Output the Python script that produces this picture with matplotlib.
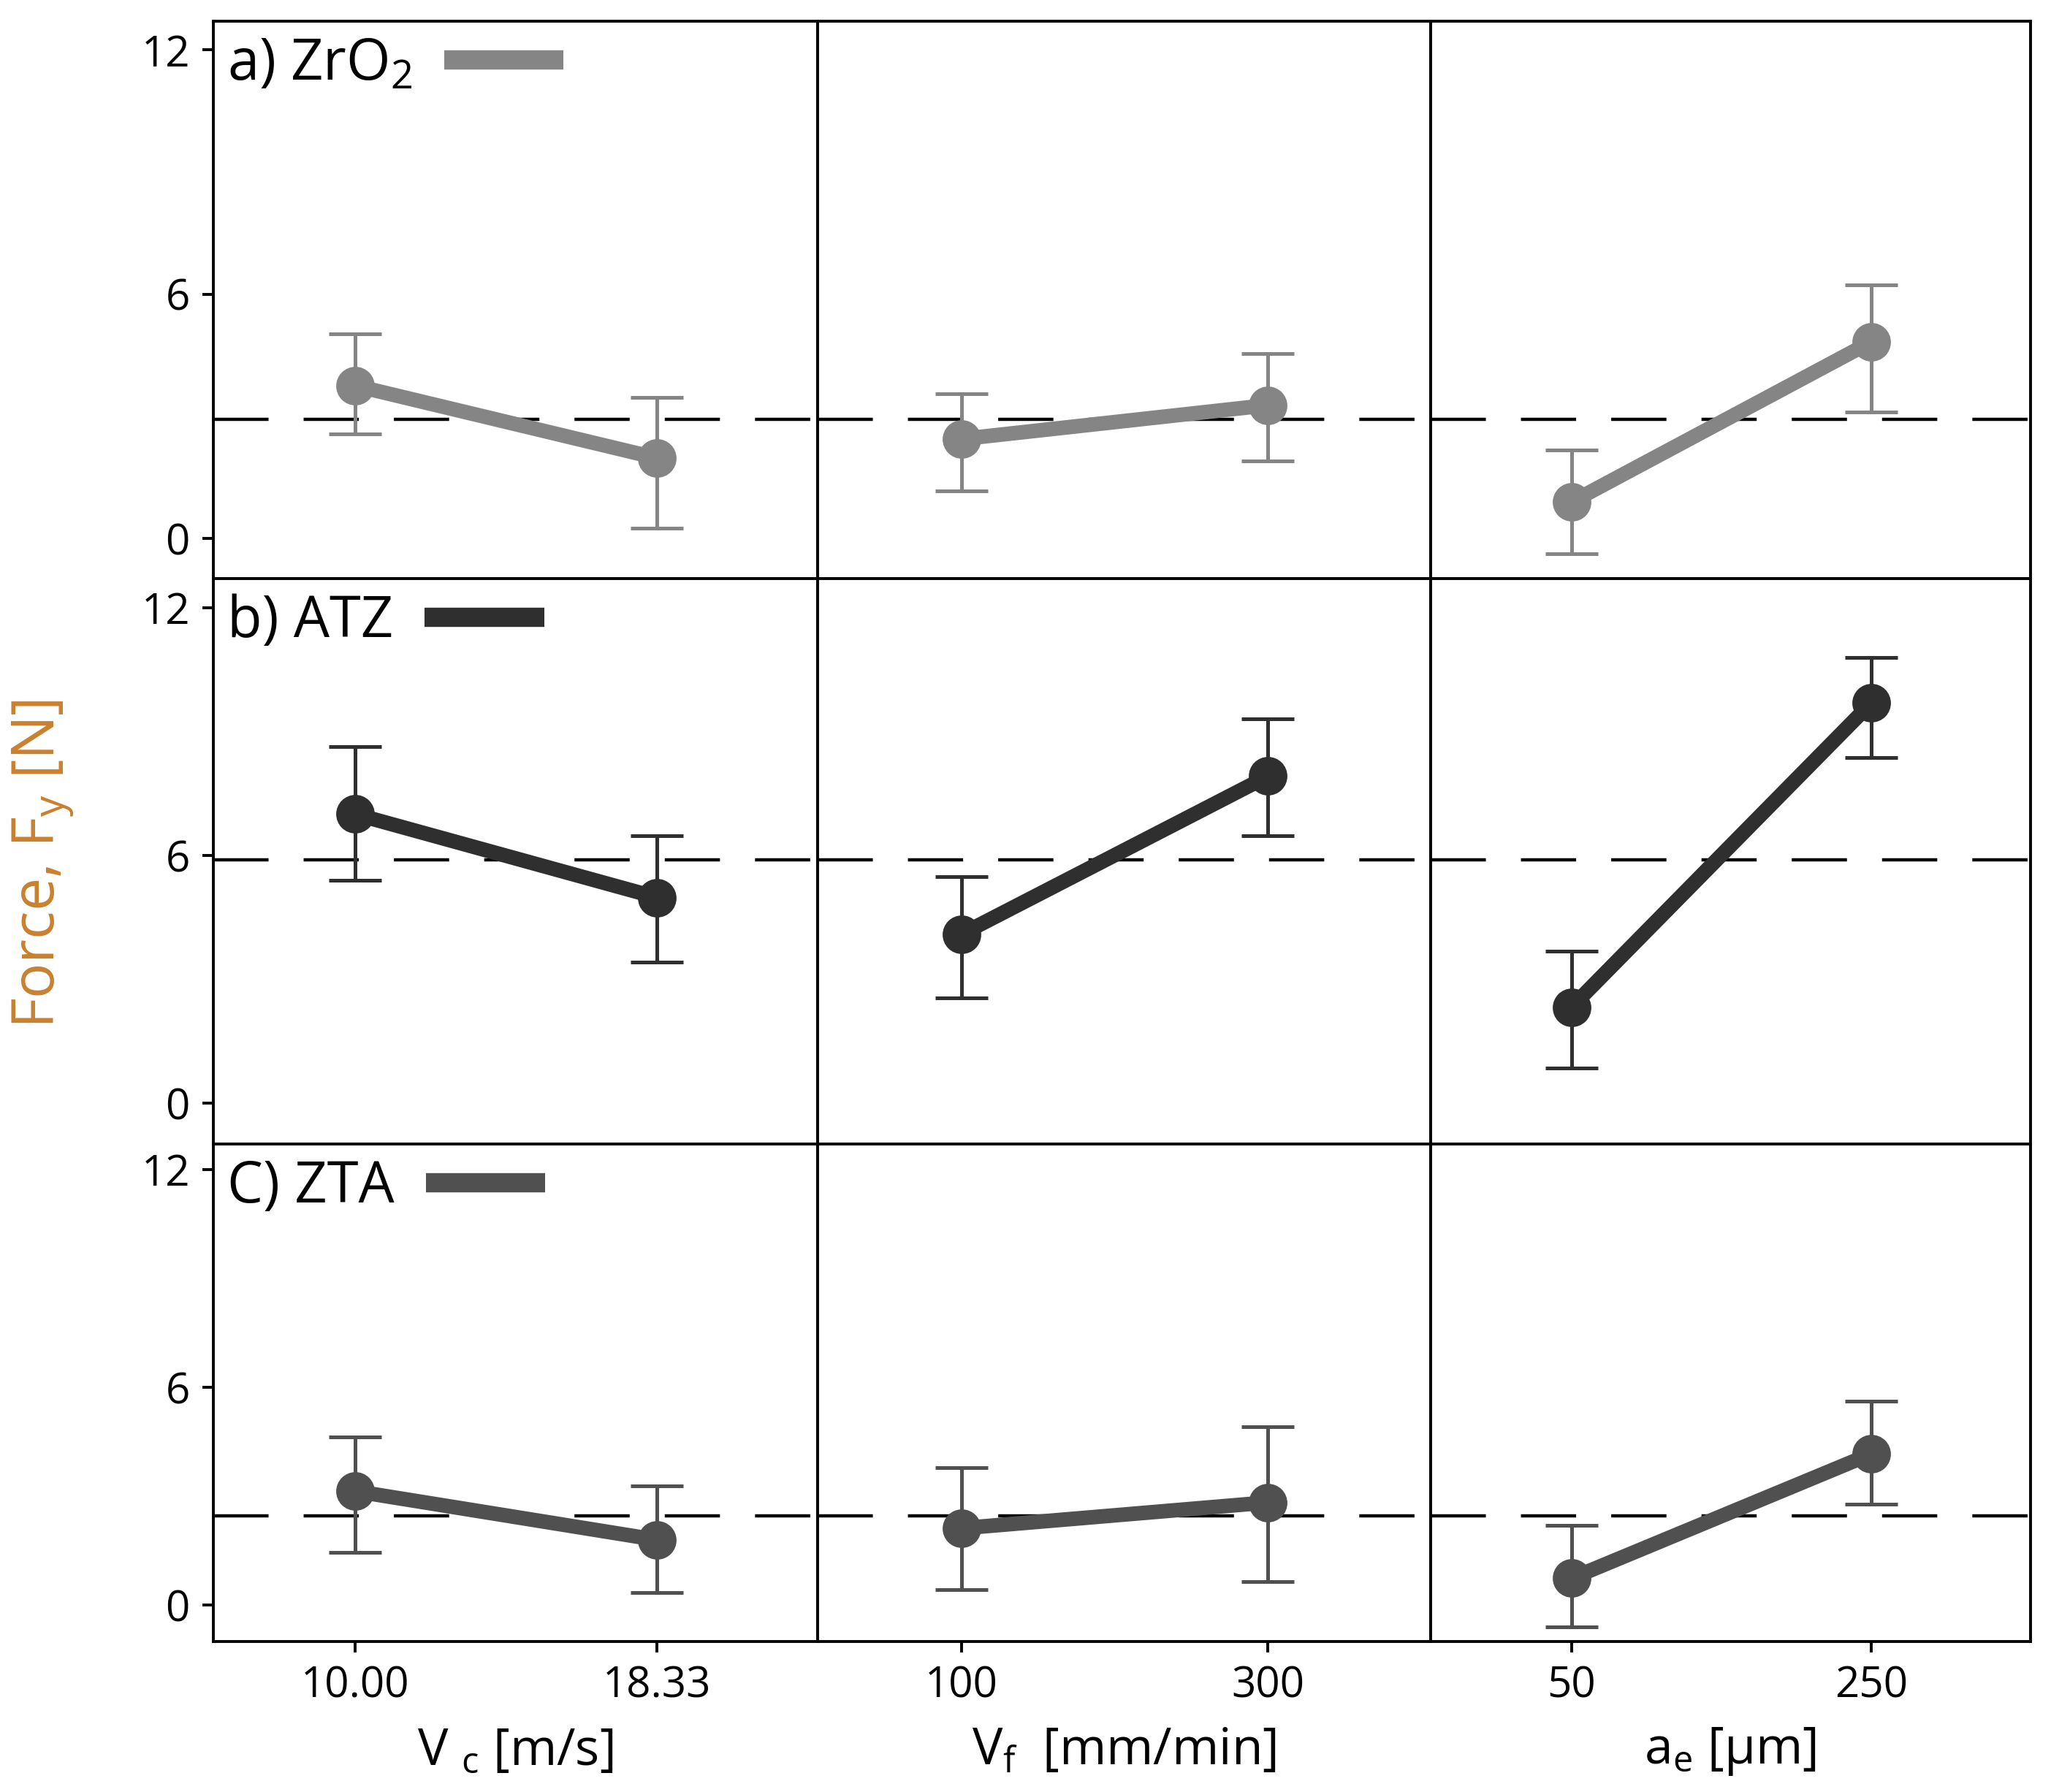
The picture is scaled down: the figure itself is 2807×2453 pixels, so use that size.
import matplotlib
matplotlib.use('Agg')
import matplotlib.pyplot as plt
from matplotlib.lines import Line2D

plt.rcParams['font.family'] = ['Open Sans', 'DejaVu Sans']

# panel rows (materials) and columns (factors)
materials = ['a) ZrO$_{\\mathregular{2}}$', 'b) ATZ', 'C) ZTA']
mat_colors = ['#858585', '#2f2f2f', '#505050']
factor_labels = ['V $_{\\mathregular{c}}$ [m/s]', 'V$_{\\mathregular{f}}$  [mm/min]', 'a$_{\\mathregular{e}}$ [µm]']
level_labels = [['10.00', '18.33'], ['100', '300'], ['50', '250']]

# main effects (mean force) per material, per factor: [low level, high level]
zro2_mean = [[3.75, 1.97], [2.44, 3.27], [0.89, 4.83]]
zro2_low = [[2.57, 0.25], [1.17, 1.90], [-0.38, 3.11]]
zro2_high = [[5.02, 3.46], [3.56, 4.54], [2.16, 6.22]]

atz_mean = [[7.00, 4.98], [4.09, 7.92], [2.32, 9.70]]
atz_low = [[5.39, 3.41], [2.54, 6.47], [0.84, 8.37]]
atz_high = [[8.63, 6.47], [5.48, 9.31], [3.68, 10.80]]

zta_mean = [[3.14, 1.80], [2.12, 2.83], [0.74, 4.17]]
zta_low = [[1.45, 0.35], [0.42, 0.64], [-0.60, 2.79]]
zta_high = [[4.63, 3.29], [3.78, 4.91], [2.19, 5.62]]

grand_means = [2.92, 5.90, 2.47]

all_mean = [zro2_mean, atz_mean, zta_mean]
all_low = [zro2_low, atz_low, zta_low]
all_high = [zro2_high, atz_high, zta_high]

fig = plt.figure(figsize=(2807 / 200, 2453 / 200), dpi=200)
gs = fig.add_gridspec(3, 3, height_ratios=[426, 432, 380], width_ratios=[462, 469, 459],
                      hspace=0, wspace=0, left=0.104, right=0.990, top=0.988, bottom=0.084)

for r in range(3):
    for c in range(3):
        ax = fig.add_subplot(gs[r, c])
        col = mat_colors[r]
        x = [0, 1]
        m = all_mean[r][c]
        lo = [m[i] - all_low[r][c][i] for i in range(2)]
        hi = [all_high[r][c][i] - m[i] for i in range(2)]
        ax.errorbar(x, m, yerr=[lo, hi], fmt='none', ecolor=col, elinewidth=1.8,
                    capsize=13, capthick=1.8, zorder=2)
        ax.plot(x, m, '-o', color=col, lw=7.2, ms=18, zorder=3)
        ax.axhline(grand_means[r], color='black', lw=1.6, dashes=(17, 10.8), zorder=1)

        ax.set_xlim(-0.47, 1.53)
        ax.set_ylim(-1.0, 12.7)
        for s in ax.spines.values():
            s.set_linewidth(1.4)

        ax.tick_params(width=1.4, length=5.5, labelsize=21, pad=6)
        if c == 0:
            ax.set_yticks([0, 6, 12])
            ax.legend(handles=[Line2D([], [], color=col, lw=9.5, solid_capstyle='butt')],
                      labels=[materials[r]], loc='upper left', frameon=False,
                      markerfirst=False, fontsize=28, handlelength=2.1,
                      handletextpad=0.55, borderaxespad=0.15, borderpad=0.1)
        else:
            ax.set_yticks([])
        if r == 2:
            ax.set_xticks(x)
            ax.set_xticklabels(level_labels[c])
            ax.set_xlabel(factor_labels[c], fontsize=25, labelpad=9)
        else:
            ax.set_xticks([])

fig.text(0.021, 0.518, 'Force, F$_{\\mathregular{y}}$ [N]', rotation=90, va='center', ha='center',
         fontsize=29, color='#c98030')

plt.savefig('out.png', dpi=200)
